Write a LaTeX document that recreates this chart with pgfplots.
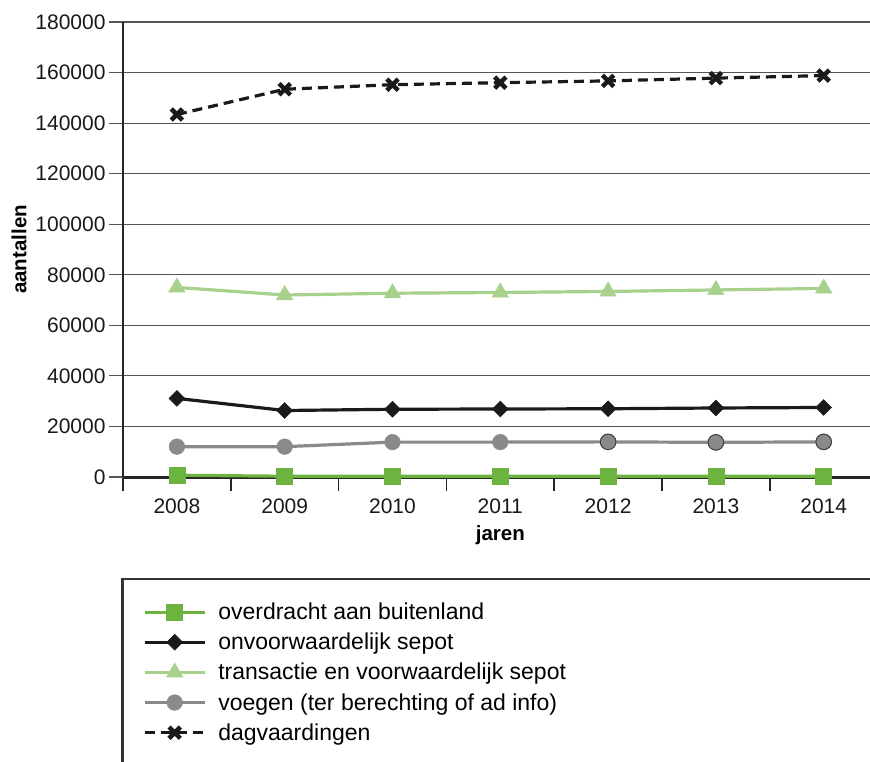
\documentclass[border=0pt]{standalone}
\usepackage{fontspec}
\setmainfont{Liberation Sans}
\usepackage{pgfplots}
\pgfplotsset{compat=1.18}
\usepackage{pgfplotstable}

\definecolor{sqgreen}{HTML}{6DB33F}
\definecolor{darkline}{HTML}{1A1A1A}
\definecolor{lightgreen}{HTML}{A9D18E}
\definecolor{midgray}{HTML}{8A8A8A}
\definecolor{gridgray}{HTML}{555555}

% values
\pgfplotstableread{
jaar overdracht onvoorw transactie voegen dagv
2008 700 31100 75000 12000 143400
2009 300 26300 72000 12000 153400
2010 300 26800 72700 13800 155200
2011 300 26900 73000 13800 156000
2012 300 27000 73400 13900 156700
2013 300 27300 74000 13700 157800
2014 300 27500 74600 13900 158800
}\datatable

\begin{document}
\begin{tikzpicture}[x=1pt,y=1pt]
\useasboundingbox (0,0) rectangle (870,761);
\begin{axis}[
    at={(123pt,284pt)}, anchor=south west,
    scale only axis, width=754.6pt, height=455pt,
    xmin=2007.5, xmax=2014.5, ymin=0, ymax=180000,
    clip=false,
    axis x line*=bottom, axis y line*=left,
    x axis line style={line width=3pt, draw=black!85},
    y axis line style={line width=2.2pt, draw=black!85},
    tick align=outside,
    major tick length=14pt,
    ytick={0,20000,40000,60000,80000,100000,120000,140000,160000,180000},
    yticklabels={0,20000,40000,60000,80000,100000,120000,140000,160000,180000},
    scaled y ticks=false,
    ymajorgrids,
    major grid style={draw=gridgray, line width=1.2pt},
    ytick style={line width=1.2pt, draw=gridgray},
    xtick={2007.5,2008.5,2009.5,2010.5,2011.5,2012.5,2013.5,2014.5},
    xticklabels={,,,,,,,},
    xtick style={line width=1.5pt, draw=black!85},
    extra x ticks={2008,2009,2010,2011,2012,2013,2014},
    extra x tick labels={2008,2009,2010,2011,2012,2013,2014},
    extra x tick style={major tick length=0pt, grid=none},
    tick label style={font=\fontsize{21}{25}\selectfont, text=black!90},
    x tick label style={yshift=-18pt},
    xlabel={jaren}, ylabel={aantallen},
    every axis x label/.style={at={(axis description cs:0.5,-0.1275)}, anchor=center, font=\bfseries\fontsize{20.5}{24}\selectfont},
    every axis y label/.style={at={(axis description cs:-0.1378,0.5)}, rotate=90, anchor=center, font=\bfseries\fontsize{20.5}{24}\selectfont},
    legend cell align=left,
    legend style={at={(axis description cs:0.0265,-0.272)}, anchor=north west,
        draw=none, fill=none, inner sep=0pt, row sep=8pt,
        font=\fontsize{23}{28}\selectfont},
    legend image code/.code={%
        \draw[mark repeat=2,mark phase=2,#1,line width=3pt] plot coordinates {(0pt,0pt) (30pt,0pt) (60pt,0pt)};
        \path (70pt,0pt);},
]
\addplot[sqgreen, line width=3.2pt, mark=square*, mark size=8pt, mark options={solid, fill=sqgreen, draw=sqgreen, line width=0.5pt}]
    table[x=jaar, y=overdracht] {\datatable};
\addlegendentry{overdracht aan buitenland}
\addplot[darkline, line width=3.2pt, mark=square*, mark size=5.6pt, mark options={solid, rotate=45, fill=darkline, line width=0.5pt}]
    table[x=jaar, y=onvoorw] {\datatable};
\addlegendentry{onvoorwaardelijk sepot}
\addplot[lightgreen, line width=3.2pt, mark=triangle*, mark size=9.5pt, mark options={solid, fill=lightgreen, line width=0.5pt}]
    table[x=jaar, y=transactie] {\datatable};
\addlegendentry{transactie en voorwaardelijk sepot}
\addplot[midgray, line width=3.2pt, mark=*, mark size=7.8pt, mark options={solid, fill=midgray, line width=0.5pt}]
    table[x=jaar, y=voegen] {\datatable};
\addlegendentry{voegen (ter berechting of ad info)}
\addplot[forget plot, only marks, mark=*, mark size=7.8pt, mark options={fill=midgray, draw=black!75, line width=1pt}]
    table[x=jaar, y=voegen, restrict x to domain=2011.5:2014.5] {\datatable};
\addplot[darkline, line width=3.2pt, dash pattern=on 10pt off 6pt, mark=x, mark size=8pt, mark options={solid, line width=4.5pt}]
    table[x=jaar, y=dagv] {\datatable};
\addlegendentry{dagvaardingen}
\end{axis}
\draw[line width=2.5pt, draw=black!80] (122.7,-40) rectangle (930,182);
\end{tikzpicture}
\end{document}
